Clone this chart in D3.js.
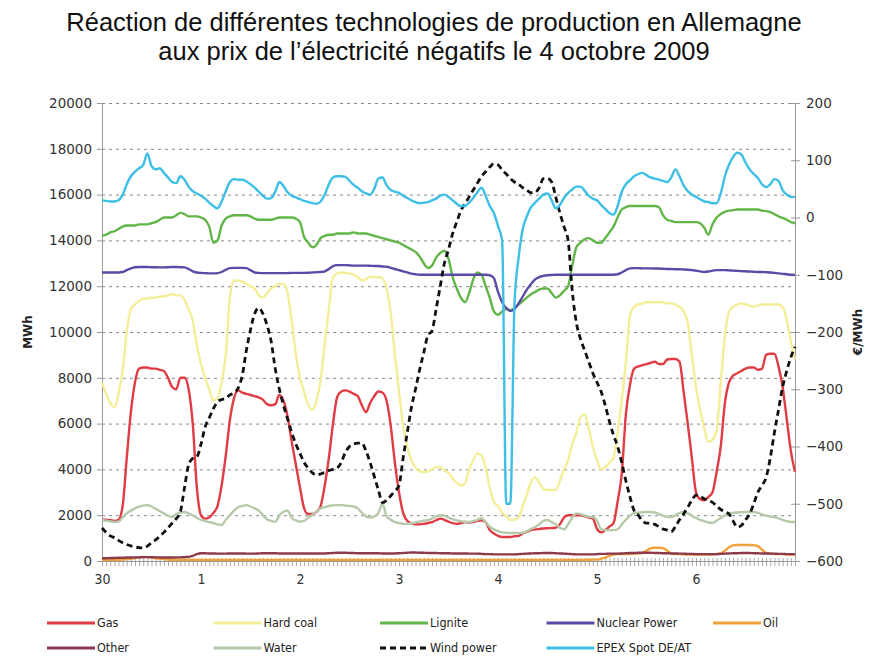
<!DOCTYPE html>
<html>
<head>
<meta charset="utf-8">
<script src="https://cdn.jsdelivr.net/npm/d3@7"></script>
<style>
  body { margin: 0; background: #fff; }
  .title { font-family: "Liberation Sans", Arial, sans-serif; font-size: 25.5px; fill: #111; }
  .tick text { font-family: "DejaVu Sans", Verdana, sans-serif; font-size: 13.5px; fill: #333; }
  .xlab .tick text { font-family: "DejaVu Sans Condensed", "DejaVu Sans", sans-serif; font-size: 14px; }
  .legend text { font-family: "DejaVu Sans Condensed", "DejaVu Sans", sans-serif; font-size: 12.5px; fill: #222; }
  .unit { font-family: "DejaVu Sans", Verdana, sans-serif; font-size: 12px; font-weight: bold; fill: #222; }
</style>
</head>
<body>
<div id="chart"></div>
<script>

// hourly axis, 30 Sept 00:00 to 7 Oct 00:00
var hours = d3.range(0, 169);
var dayTicks = [0, 24, 48, 72, 96, 120, 144];
var dayLabels = ["30", "1", "2", "3", "4", "5", "6"];
var mwhTicks = d3.range(0, 20001, 2000);
var priceTicks = d3.range(-600, 201, 100);

// MWh, one row per day
var gas = [
  1800,1800,1780,1750,1800,2400,4500,6500,7800,8400,8450,8450,8400,8400,8350,8300,8000,7600,7500,8000,8000,7500,6000,3200,
  2000,1850,1900,2100,2400,3300,4600,6150,7100,7450,7350,7300,7250,7200,7150,7050,6850,6800,6850,7250,7000,6300,5200,4200,
  3200,2300,2050,2050,2150,2400,3300,4500,6000,7150,7400,7450,7400,7300,7200,6800,6500,6900,7200,7400,7350,7000,5900,4300,
  3000,2100,1750,1650,1600,1600,1620,1660,1700,1780,1850,1800,1720,1650,1620,1650,1700,1680,1700,1750,1780,1700,1350,1200,
  1100,1050,1050,1050,1080,1100,1200,1280,1350,1380,1400,1420,1430,1440,1450,1600,1900,2000,2000,2000,2000,1950,1900,1850,
  1400,1250,1350,1500,1650,2600,3800,6400,7700,8400,8500,8550,8600,8650,8700,8600,8600,8800,8820,8820,8700,7400,6000,4500,
  3000,2700,2650,2800,3000,3900,5000,6900,7800,8100,8200,8300,8400,8450,8450,8350,8400,9000,9050,9050,8500,7600,6200,4800,
  3900];

var hardCoal = [
  7800,7300,6900,6700,7300,8300,10000,11000,11200,11350,11450,11450,11500,11500,11550,11550,11600,11650,11600,11600,11400,11000,10500,9400,
  8600,8000,7500,7000,7100,7800,9000,11500,12250,12250,12200,12100,12000,11900,11600,11500,11700,11900,12000,12100,12100,11700,10500,9000,
  8000,7400,6800,6600,7000,7900,9500,11000,12400,12550,12600,12580,12560,12500,12400,12250,12300,12400,12400,12400,12350,11900,10800,9000,
  7400,5900,5000,4400,4100,3900,3900,3900,4000,4100,4100,3950,3850,3600,3400,3300,3400,4000,4400,4700,4600,4100,3200,2600,
  2400,2100,1950,1800,1800,1900,2400,2900,3450,3650,3400,3150,3100,3100,3100,3500,4000,4400,5100,5600,6300,6400,5800,5000,
  4400,4000,4100,4300,4500,5600,7000,8700,10700,11100,11200,11250,11300,11300,11300,11300,11300,11250,11250,11200,11100,10900,10400,9000,
  7600,6600,5800,5200,5300,5700,7800,9800,10900,11100,11200,11250,11200,11150,11100,11150,11200,11200,11200,11200,11200,11100,10500,9600,
  8800];

var lignite = [
  14200,14250,14350,14400,14500,14600,14650,14650,14650,14700,14700,14700,14750,14800,14900,15000,15000,15000,15100,15200,15150,15050,15050,15050,
  15000,14900,14600,13900,14000,14650,14950,15050,15100,15100,15100,15100,15050,14950,14900,14900,14900,14900,14950,15000,15000,15000,15000,14950,
  14800,14150,13900,13700,13800,14100,14200,14250,14250,14300,14300,14300,14300,14350,14300,14300,14300,14250,14200,14150,14100,14050,14000,13950,
  13900,13800,13700,13600,13500,13300,13000,12800,12900,13250,13450,13550,13200,12400,11900,11500,11300,11700,12300,12600,12500,12000,11500,10900,
  10750,10900,11000,10950,11050,11200,11350,11500,11650,11750,11850,11900,11900,11700,11500,11600,11800,12000,12900,13700,13900,14050,14100,14000,
  13900,13900,14100,14350,14600,15000,15350,15450,15500,15500,15500,15500,15500,15500,15500,15450,15100,14900,14850,14800,14800,14800,14800,14800,
  14800,14750,14550,14250,14700,15000,15150,15250,15300,15320,15350,15350,15350,15350,15350,15350,15300,15280,15240,15150,15050,14980,14900,14800,
  14750];

var nuclear = [
  12600,12600,12600,12600,12600,12620,12700,12780,12830,12840,12840,12840,12830,12830,12820,12820,12830,12840,12840,12830,12820,12750,12650,12600,
  12580,12570,12560,12560,12570,12620,12720,12790,12800,12800,12800,12790,12700,12600,12580,12570,12570,12570,12570,12570,12570,12570,12580,12580,
  12580,12580,12590,12600,12610,12620,12650,12750,12880,12920,12920,12920,12910,12900,12900,12900,12900,12890,12880,12880,12860,12850,12800,12750,
  12700,12650,12600,12550,12520,12500,12500,12500,12500,12500,12500,12500,12500,12500,12500,12500,12500,12500,12500,12500,12500,12500,12480,12350,
  11750,11300,11050,10920,11000,11250,11550,11850,12100,12300,12400,12450,12480,12490,12500,12500,12500,12500,12500,12500,12500,12500,12500,12500,
  12500,12500,12500,12500,12500,12520,12600,12700,12780,12790,12790,12780,12780,12780,12770,12770,12760,12750,12750,12740,12740,12730,12720,12700,
  12680,12650,12620,12640,12680,12700,12700,12700,12690,12680,12670,12660,12650,12640,12630,12620,12620,12610,12600,12580,12560,12540,12520,12500,
  12490];

var oil = [
  50,50,50,50,50,60,80,100,130,160,180,170,150,120,100,80,60,50,50,50,50,50,50,50,
  50,50,50,50,50,50,50,50,50,50,50,50,50,50,50,50,50,50,50,50,50,50,50,50,
  50,50,50,50,50,50,50,50,50,50,50,50,50,50,50,50,50,50,50,50,50,50,50,50,
  50,50,50,50,50,50,50,50,50,50,50,50,50,50,50,50,50,50,50,50,50,50,50,50,
  50,50,50,50,50,50,50,50,50,50,50,50,50,50,50,50,50,50,50,50,50,50,55,60,
  60,100,150,220,280,300,300,300,310,320,330,350,450,550,580,580,560,450,330,300,300,290,280,280,
  280,280,280,280,290,300,330,450,600,680,700,700,700,700,690,650,500,350,320,300,300,300,290,280,
  280];

var other = [
  120,120,130,130,140,140,150,150,160,160,170,170,170,160,160,150,150,150,160,160,170,180,220,300,
  340,340,330,330,320,320,320,330,330,330,330,320,320,320,330,340,340,340,340,330,330,330,330,330,
  330,330,330,330,330,330,330,340,350,360,360,360,350,350,340,340,340,340,340,340,330,330,330,330,
  340,350,360,370,370,360,360,350,350,350,340,340,340,330,330,330,330,320,320,320,310,300,300,290,
  290,290,290,290,290,300,310,320,330,340,340,350,350,350,340,330,320,310,300,290,290,290,290,290,
  300,310,310,320,320,320,330,340,350,350,360,360,360,360,350,350,340,340,330,330,320,320,310,310,
  300,300,300,300,300,300,310,320,330,340,340,350,350,350,340,340,330,330,320,320,310,310,300,300,
  300];

var water = [
  1790,1760,1730,1710,1720,1900,2080,2200,2300,2370,2420,2440,2380,2280,2180,2080,1980,1920,2050,2110,2140,2080,1990,1880,
  1800,1750,1700,1660,1600,1570,1800,2000,2200,2350,2400,2440,2380,2300,2200,2000,1820,1750,1710,2000,2150,2200,1880,1780,
  1720,1750,1900,2010,2150,2300,2350,2400,2430,2440,2440,2420,2400,2380,2300,2100,1950,1900,1950,2100,2500,1950,1800,1700,
  1660,1630,1620,1650,1680,1720,1760,1790,1850,1950,2000,1980,1900,1820,1780,1740,1710,1700,1740,1800,1870,1700,1500,1380,
  1300,1250,1230,1220,1220,1220,1230,1300,1400,1480,1600,1750,1790,1700,1600,1450,1380,1600,1900,2080,2050,1980,1930,1920,
  1750,1400,1350,1350,1350,1380,1600,1800,1980,2090,2110,2130,2140,2140,2120,2050,1980,1930,1920,2000,2100,2140,2080,1980,
  1880,1800,1740,1680,1660,1760,1880,2000,2080,2100,2120,2130,2140,2140,2140,2100,2040,1980,1940,1920,1860,1800,1740,1710,
  1700];

var wind = [
  1440,1250,1100,1020,900,800,720,660,620,580,570,650,800,920,1080,1250,1450,1650,1850,2150,3200,4200,4480,4550,
  5100,5850,6250,6650,6950,7050,7100,7250,7350,7550,8100,9200,10100,10800,11050,10800,10300,9600,8400,7500,6800,6200,5600,5100,
  4700,4300,4050,3850,3760,3800,3870,3950,4000,4060,4300,4750,5000,5110,5150,5150,4800,4300,3700,3100,2550,2650,2850,3050,
  3300,4500,5600,6700,7500,8350,9100,9850,10050,11000,12000,13000,13600,14300,14800,15300,15600,15900,16200,16500,16800,17000,17200,17350,
  17300,17080,16900,16700,16550,16450,16300,16200,16080,16100,16300,16700,16700,16550,15900,15200,14600,14000,11800,10400,9700,9200,8700,8200,
  7800,7400,6800,6100,5500,5000,4300,3500,2800,2200,2000,1750,1650,1650,1600,1500,1400,1350,1280,1500,1800,2050,2350,2650,
  2880,2820,2720,2640,2560,2400,2250,2150,2050,1750,1480,1550,1800,2050,2500,3000,3300,3650,4500,5600,6600,7600,8300,8900,
  9350];

// €/MWh, right axis
var epex = [
  30,29,28,28,30,40,58,72,80,86,92,112,90,84,86,78,70,62,60,72,66,54,46,42,
  38,33,26,20,16,28,46,62,67,66,66,63,58,52,45,38,33,34,45,62,55,44,38,35,
  32,29,27,25,24,28,40,58,70,72,72,71,64,57,52,46,42,40,50,68,70,56,48,45,
  43,38,34,30,27,25,26,27,30,33,38,40,36,30,24,20,20,26,34,44,52,38,20,8,
  -15,-40,-500,-500,-150,-70,-20,2,18,26,33,40,42,30,16,22,34,43,49,54,54,47,38,33,
  30,22,15,8,5,20,45,58,65,72,76,78,74,70,68,66,64,62,70,84,72,56,46,40,
  36,32,28,27,25,25,42,72,92,106,113,110,96,84,76,69,58,53,58,67,64,48,40,36,
  36];

var series = [
  {name: "Gas", values: gas, color: "#e03c44", axis: "left"},
  {name: "Hard coal", values: hardCoal, color: "#f5ee98", axis: "left"},
  {name: "Lignite", values: lignite, color: "#62b548", axis: "left"},
  {name: "Nuclear Power", values: nuclear, color: "#5a4ca6", axis: "left"},
  {name: "Oil", values: oil, color: "#f0a23a", axis: "left"},
  {name: "Other", values: other, color: "#8c3a4c", axis: "left"},
  {name: "Water", values: water, color: "#b6c9aa", axis: "left"},
  {name: "Wind power", values: wind, color: "#111", axis: "left", dash: "6,4"},
  {name: "EPEX Spot DE/AT", values: epex, color: "#3dbfe6", axis: "right"}
];

var width = 869, height = 659;
var plot = {left: 102, right: 795, top: 103, bottom: 561};

var svg = d3.select("#chart").append("svg")
    .attr("width", width)
    .attr("height", height);

var x = d3.scaleLinear().domain([0, 168]).range([plot.left, plot.right]);
var yL = d3.scaleLinear().domain([0, 20000]).range([plot.bottom, plot.top]);
var yR = d3.scaleLinear().domain([-600, 200]).range([plot.bottom, plot.top]);

// title
var title = svg.append("text").attr("class", "title").attr("text-anchor", "middle");
title.append("tspan").attr("x", 434).attr("y", 31)
    .text("Réaction de différentes technologies de production en Allemagne");
title.append("tspan").attr("x", 434).attr("y", 60)
    .text("aux prix de l’électricité négatifs le 4 octobre 2009");

// dashed grid
svg.append("g")
    .attr("transform", "translate(" + plot.left + ",0)")
    .call(d3.axisRight(yL).tickValues(mwhTicks.slice(1)).tickSize(plot.right - plot.left).tickFormat(""))
    .call(function(g) { g.select(".domain").remove(); })
    .selectAll("line")
    .attr("stroke", "#888")
    .attr("stroke-dasharray", "3,4");

// left axis
svg.append("g")
    .attr("transform", "translate(" + plot.left + ",0)")
    .call(d3.axisLeft(yL).tickValues(mwhTicks).tickSize(5).tickPadding(5).tickSizeOuter(0)
        .tickFormat(d3.format("d")))
    .call(function(g) {
        g.selectAll("line, path").attr("stroke", "#999");
    });

// right axis, ticks crossing the line
svg.append("g")
    .attr("transform", "translate(" + plot.right + ",0)")
    .call(d3.axisRight(yR).tickValues(priceTicks).tickSize(5).tickPadding(6).tickSizeOuter(0)
        .tickFormat(d3.format("d")))
    .call(function(g) {
        g.selectAll("line, path").attr("stroke", "#999");
    });
svg.append("g")
    .attr("transform", "translate(" + plot.right + ",0)")
    .call(d3.axisLeft(yR).tickValues(priceTicks).tickSize(4).tickFormat(""))
    .call(function(g) {
        g.select(".domain").remove();
        g.selectAll("line").attr("stroke", "#999");
    });

// hourly ticks on the x axis
svg.append("g")
    .attr("transform", "translate(0," + (plot.bottom - 3) + ")")
    .call(d3.axisBottom(x).tickValues(hours).tickSize(8).tickFormat(""))
    .call(function(g) {
        g.select(".domain").remove();
        g.selectAll("line").attr("stroke", "#aaa");
    });

// x axis line + day labels
svg.append("g")
    .attr("class", "xlab")
    .attr("transform", "translate(0," + plot.bottom + ")")
    .call(d3.axisBottom(x).tickValues(dayTicks).tickSize(0).tickPadding(13)
        .tickFormat(function(d, i) { return dayLabels[i]; }))
    .call(function(g) {
        g.select(".domain").attr("stroke", "#999");
    });

// axis titles
svg.append("text").attr("class", "unit")
    .attr("transform", "translate(32,332) rotate(-90)")
    .attr("text-anchor", "middle")
    .text("MWh");
svg.append("text").attr("class", "unit")
    .attr("transform", "translate(862,332) rotate(-90)")
    .attr("text-anchor", "middle")
    .text("€/MWh");

// lines
series.forEach(function(s) {
    var y = s.axis === "right" ? yR : yL;
    var line = d3.line()
        .x(function(d, i) { return x(hours[i]); })
        .y(function(d) { return y(d); })
        .curve(d3.curveMonotoneX);
    svg.append("path")
        .datum(s.values)
        .attr("fill", "none")
        .attr("stroke", s.color)
        .attr("stroke-width", s.dash ? 2.8 : 2.4)
        .attr("stroke-dasharray", s.dash || null)
        .attr("stroke-linejoin", "round")
        .attr("d", line);
});

// legend, 2 rows of 5 / 4
var legend = svg.append("g").attr("class", "legend");
series.forEach(function(s, i) {
    var col = i % 5, row = Math.floor(i / 5);
    var lx = 47 + col * 166.5, ly = 623 + row * 25;
    var item = legend.append("g").attr("transform", "translate(" + lx + "," + ly + ")");
    item.append("line")
        .attr("x1", 0).attr("x2", 48)
        .attr("stroke", s.color)
        .attr("stroke-width", 3)
        .attr("stroke-dasharray", s.dash || null);
    item.append("text")
        .attr("x", 50)
        .attr("dy", "0.35em")
        .text(s.name);
});

</script>
</body>
</html>
